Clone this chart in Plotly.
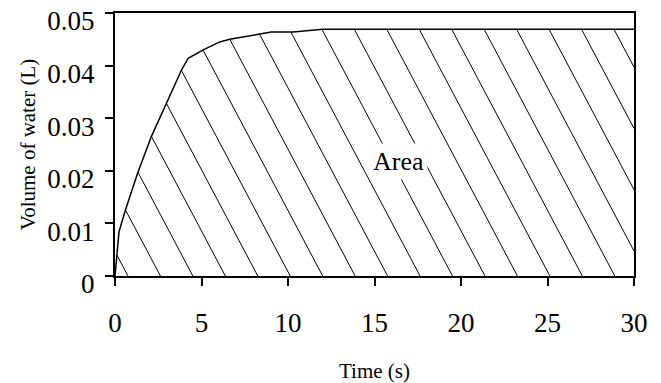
import numpy as np
import plotly.graph_objects as go

# ---- data ----
time_s = [0, 0.1, 0.23, 0.6, 1.3, 2.1, 2.4, 3.0, 3.85, 4.23, 5.1, 6.06, 6.63,
          8.37, 9.04, 10.3, 12.0, 30]
volume_L = [0, 0.0037, 0.0084, 0.0125, 0.0195, 0.0265, 0.0287, 0.0328, 0.0392,
            0.0414, 0.043, 0.0445, 0.045, 0.046, 0.0464, 0.0464, 0.0469, 0.0469]
x_ticks = [0, 5, 10, 15, 20, 25, 30]
y_ticks = [0, 0.01, 0.02, 0.03, 0.04, 0.05]
y_tick_labels = ["0", "0.01", "0.02", "0.03", "0.04", "0.05"]
area_label = "Area"

# ---- hatch styling (diagonal "\" lines clipped to the area under the curve) ----
hatch_start = 0.75   # where the first hatch line meets the time axis (s)
hatch_step = 1.876   # spacing of hatch lines along the time axis (s)
hatch_run = 161.0    # horizontal run per unit volume (s per L)

t = np.array(time_s, dtype=float)
v = np.array(volume_L, dtype=float)
hx, hy = [], []
k = 0
while True:
    tb = hatch_start + k * hatch_step
    k += 1
    if (tb - t[-1]) / hatch_run > v.max():
        break
    hi = min(tb, t[-1])
    grid = np.linspace(0, hi, 6000)
    f = np.interp(grid, t, v) - (tb - grid) / hatch_run
    if not np.any(f >= 0):
        continue
    t_top = grid[np.argmax(f >= 0)]
    v_top = (tb - t_top) / hatch_run
    if tb <= t[-1]:
        t_bot, v_bot = tb, 0.0
    else:
        t_bot, v_bot = t[-1], (tb - t[-1]) / hatch_run
    if t_top >= t_bot:
        continue
    hx += [t_top, t_bot, None]
    hy += [v_top, v_bot, None]

FONT = "Liberation Serif"

fig = go.Figure()
fig.add_trace(go.Scatter(x=hx, y=hy, mode="lines",
                         line=dict(color="black", width=1),
                         hoverinfo="skip", showlegend=False))
fig.add_trace(go.Scatter(x=time_s, y=volume_L, mode="lines",
                         line=dict(color="black", width=1.5),
                         showlegend=False))

fig.add_annotation(x=16.4, y=0.0217, text=area_label, showarrow=False,
                   font=dict(family=FONT, size=26, color="black"),
                   bgcolor="white", borderpad=3)

fig.update_layout(
    width=661, height=383,
    margin=dict(l=115, r=27, t=13, b=107),
    paper_bgcolor="white", plot_bgcolor="white",
    font=dict(family=FONT, color="black"),
    showlegend=False,
)
fig.update_xaxes(
    range=[0, 30], tickvals=x_ticks, ticktext=[str(x) for x in x_ticks],
    showgrid=False, zeroline=False, automargin=False,
    showline=True, linecolor="black", linewidth=2, mirror=True,
    ticks="outside", ticklen=8, tickwidth=1.5, tickcolor="black",
    tickfont=dict(family=FONT, size=27, color="black"),
    ticklabelstandoff=14,
    title=dict(text="Time (s)", font=dict(family=FONT, size=21, color="black"),
               standoff=29),
)
fig.update_yaxes(
    range=[0, 0.05], tickvals=y_ticks, ticktext=y_tick_labels,
    showgrid=False, zeroline=False, automargin=False,
    showline=True, linecolor="black", linewidth=2, mirror=True,
    ticks="outside", ticklen=8, tickwidth=1.5, tickcolor="black",
    tickfont=dict(family=FONT, size=27, color="black"),
    ticklabelstandoff=5, ticklabelshift=8,
    title=dict(text="Volume of water (L)", font=dict(family=FONT, size=21, color="black"),
               standoff=6),
)

fig.write_html("out.html")
